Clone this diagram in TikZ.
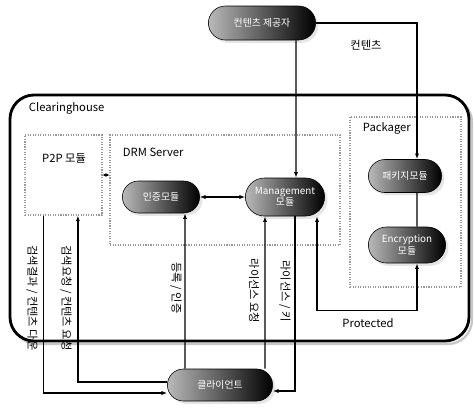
\documentclass[tikz,border=0pt]{standalone}
\usepackage{fontspec}
\setmainfont{Noto Sans CJK KR}
\usetikzlibrary{shapes.misc,shadows,arrows.meta}

\begin{document}
\begin{tikzpicture}[x=0.025cm, y=-0.025cm, >={Latex[length=4pt,width=3pt]},
    pill/.style={rounded rectangle, draw=black, left color=gray!55, right color=black,
                 text=white, font=\fontsize{7}{8}\selectfont, align=center, inner sep=1pt,
                 drop shadow={shadow xshift=2pt, shadow yshift=-2pt, fill=gray!40}},
    area/.style={draw=gray!80, densely dotted, thick, rectangle},
    flow/.style={line width=0.9pt},
    tag/.style={font=\fontsize{8}{9}\selectfont},
    side/.style={font=\fontsize{8}{9}\selectfont, rotate=-90, inner sep=1pt}]
    \useasboundingbox (0,0) rectangle (474,410);
    % clearinghouse frame
    \draw[gray!45, line width=1.6pt, rounded corners=0.6cm] (13,98) rectangle (472,344);
    \draw[line width=2pt, rounded corners=0.6cm, fill=white] (10,95) rectangle (469,341);
    \node[tag, anchor=west] (chlabel) at (24,108) {Clearinghouse};
    % inner areas
    \node[area, minimum width=1.925cm, minimum height=2cm] (p2p) at (63.5,175) {};
    \node[tag] (p2plabel) at (64,158) {P2P 모듈};
    \node[area, minimum width=5.75cm, minimum height=2.75cm] (drm) at (225,190) {};
    \node[tag, anchor=west] (drmlabel) at (118,152) {DRM Server};
    \node[area, minimum width=2.775cm, minimum height=4.25cm] (pkgbox) at (405.5,202) {};
    \node[tag, anchor=west] (pkglabel) at (358,128) {Packager};
    % modules
    \node[pill, minimum width=2.75cm, minimum height=0.85cm] (provider) at (262,23) {컨텐츠 제공자};
    \node[pill, minimum width=2cm, minimum height=0.8cm] (auth) at (161,197) {인증모듈};
    \node[pill, minimum width=2.05cm, minimum height=0.95cm] (mgmt) at (285,197) {Management\\모듈};
    \node[pill, minimum width=1.9cm, minimum height=0.825cm] (pack) at (405,176) {패키지모듈};
    \node[pill, minimum width=2cm, minimum height=0.9cm] (enc) at (407,245) {Encryption\\모듈};
    \node[pill, minimum width=2.7cm, minimum height=0.8cm] (client) at (220,385) {클라이언트};
    % flows
    \draw[flow, ->] (provider.east) -| ([xshift=0.3cm]pack.north);
    \node[tag] (contlabel) at (366,45) {컨텐츠};
    \draw[flow, ->] ([xshift=0.85cm]provider.south) -- ([xshift=0.275cm]mgmt.north);
    \draw[flow, {Latex[length=2.5pt,width=2.5pt]}-{Latex[length=2.5pt,width=2.5pt]}] (p2p.east) -- (p2p.east -| drm.west);
    \draw[flow, <->] (auth.east) -- (mgmt.west);
    \draw[flow] ([xshift=0.3cm]pack.south) -- ([xshift=0.25cm]enc.north);
    \draw[flow, <->] ([xshift=0.25cm]enc.south) -- ++(0,47) -| ([xshift=0.8cm]mgmt.south);
    \node[tag] (protlabel) at (368,323) {Protected};
    \draw[flow, ->] ([xshift=-0.875cm]client.north) -- ([xshift=0.6cm]auth.south);
    \draw[flow, ->] ([xshift=1.125cm]client.north) -- ([xshift=-0.5cm]mgmt.south);
    \draw[flow, ->] ([xshift=0.25cm]mgmt.south) |- ([yshift=-0.15cm]client.east);
    \draw[flow, ->] ([xshift=-0.5cm]p2p.south) |- ([yshift=-0.2cm]client.west);
    \draw[flow, ->] ([yshift=0.075cm]client.west) -| ([xshift=0.36cm]p2p.south);
    \foreach \nm/\x/\y/\txt in {down/32/298/{검색결과 / 컨텐츠 다운},
                                req/66/298/{검색요청 / 컨텐츠 요청},
                                reg/176/288/{등록 / 인증},
                                lic/254/291/{라이선스 요청},
                                key/285/291/{라이선스 / 키}}
        \node[side] (\nm) at (\x,\y) {\txt};
\end{tikzpicture}
\end{document}
